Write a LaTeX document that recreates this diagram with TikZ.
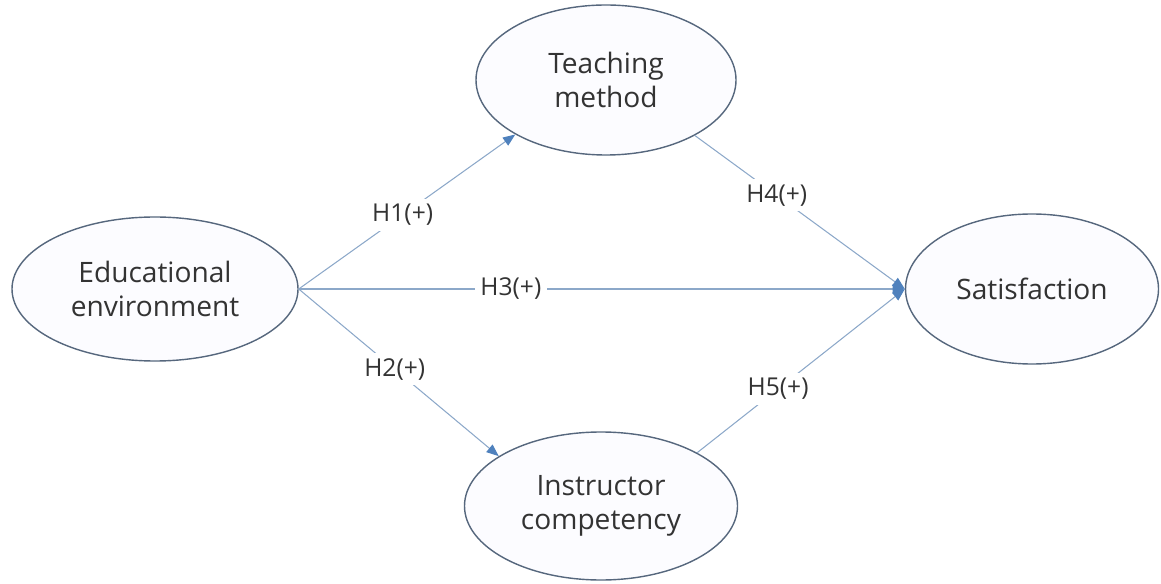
\documentclass[tikz,border=0pt]{standalone}
\usepackage{fontspec}
\setmainfont{Open Sans}
\usetikzlibrary{arrows.meta, shapes.geometric}
\definecolor{edgegray}{HTML}{56677D}
\definecolor{linkblue}{HTML}{8CA8C9}
\definecolor{tipblue}{HTML}{4F81BD}
\definecolor{textgray}{HTML}{333333}
\begin{document}
\begin{tikzpicture}[
    construct/.style={ellipse, draw=edgegray, line width=0.8pt, fill=blue!1, inner sep=0pt,
        align=center, text=textgray, font=\fontsize{16}{19}\selectfont},
    link/.style={linkblue, line width=0.6pt, -{Triangle[length=7pt,width=5.5pt,color=tipblue,fill=tipblue]}},
    hyp/.style={fill=white, text=textgray, inner sep=3pt, font=\fontsize{14}{16}\selectfont}]
    \useasboundingbox (0,0) rectangle (23.22,11.66);
    \coordinate (E) at (3.10,5.88);
    \coordinate (T) at (12.12,10.06);
    \coordinate (I) at (12.02,1.54);
    \coordinate (S) at (20.64,5.88);
    \node[construct, minimum width=5.72cm, minimum height=2.88cm] (edu) at (E) {Educational\\environment};
    \node[construct, minimum width=5.2cm, minimum height=3.0cm] (teach) at (T) {Teaching\\method};
    \node[construct, minimum width=5.46cm, minimum height=2.96cm] (instr) at (I) {Instructor\\competency};
    \node[construct, minimum width=5.06cm, minimum height=3.0cm] (satis) at (S) {Satisfaction};
    \draw[link] (edu.east) -- (teach.211) node[hyp, pos=0.48] {H1(+)};
    \draw[link] (edu.east) -- (instr.154) node[hyp, pos=0.48] {H2(+)};
    \draw[link] (edu.east) -- (satis.west) node[hyp, pos=0.35] {H3(+)};
    \draw[link] (teach.-32) -- (satis.west) node[hyp, pos=0.39] {H4(+)};
    \draw[link] (instr.29) -- (satis.west) node[hyp, pos=0.39] {H5(+)};
\end{tikzpicture}
\end{document}
